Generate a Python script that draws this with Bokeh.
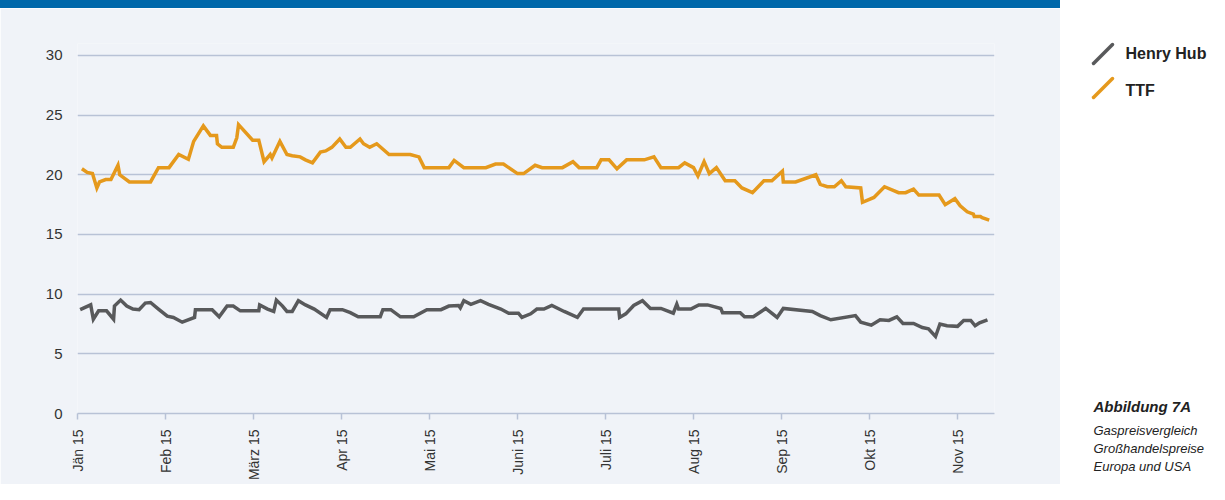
import math
from bokeh.plotting import figure
from bokeh.layouts import column, row
from bokeh.models import Div, FixedTicker, Range1d, ColumnDataSource
from bokeh.core.properties import value
from bokeh.embed import file_html
from bokeh.resources import INLINE

# ---------------- data (x = months since Jan 2015) ----------------
tick_labels = ["Jän 15", "Feb 15", "März 15", "Apr 15", "Mai 15", "Juni 15",
               "Juli 15", "Aug 15", "Sep 15", "Okt 15", "Nov 15"]
y_ticks = [0, 5, 10, 15, 20, 25, 30]

months_ttf = [0.05, 0.11, 0.17, 0.22, 0.25, 0.32, 0.38, 0.46, 0.48, 0.59,
              0.83, 0.92, 1.04, 1.15, 1.26, 1.32, 1.43, 1.51, 1.58, 1.59,
              1.64, 1.77, 1.81, 1.83, 1.99, 2.06, 2.12, 2.19, 2.21, 2.30,
              2.38, 2.44, 2.53, 2.59, 2.67, 2.76, 2.82, 2.89, 2.98, 3.05,
              3.10, 3.21, 3.25, 3.32, 3.40, 3.54, 3.78, 3.88, 3.94, 4.22,
              4.28, 4.39, 4.64, 4.75, 4.84, 5.00, 5.07, 5.20, 5.28, 5.51,
              5.63, 5.70, 5.90, 5.95, 6.04, 6.13, 6.24, 6.44, 6.55, 6.63,
              6.83, 6.90, 7.00, 7.05, 7.12, 7.18, 7.26, 7.36, 7.47, 7.55,
              7.67, 7.80, 7.89, 8.01, 8.02, 8.16, 8.39, 8.44, 8.52, 8.60,
              8.68, 8.73, 8.90, 8.92, 9.05, 9.17, 9.33, 9.41, 9.50, 9.56,
              9.79, 9.86, 9.97, 10.03, 10.11, 10.18, 10.19, 10.26, 10.28, 10.36]
ttf = [20.5, 20.2, 20.1, 18.9, 19.4, 19.6, 19.6, 20.8, 20.0, 19.4,
       19.4, 20.6, 20.6, 21.7, 21.3, 22.8, 24.1, 23.3, 23.3, 22.6,
       22.3, 22.3, 23.1, 24.2, 22.9, 22.9, 21.1, 21.7, 21.4, 22.8,
       21.7, 21.6, 21.5, 21.25, 21.0, 21.9, 22.0, 22.3, 23.0, 22.3,
       22.3, 23.0, 22.6, 22.3, 22.6, 21.7, 21.7, 21.5, 20.6, 20.6,
       21.2, 20.6, 20.6, 20.9, 20.9, 20.1, 20.1, 20.8, 20.6, 20.6,
       21.1, 20.6, 20.6, 21.25, 21.25, 20.5, 21.25, 21.25, 21.5, 20.6,
       20.6, 21.0, 20.6, 19.9, 21.1, 20.1, 20.6, 19.5, 19.5, 18.9,
       18.5, 19.5, 19.5, 20.3, 19.4, 19.4, 20.0, 19.2, 19.0, 19.0,
       19.5, 19.0, 18.9, 17.7, 18.1, 19.0, 18.5, 18.5, 18.8, 18.3,
       18.3, 17.5, 18.0, 17.4, 16.9, 16.7, 16.5, 16.5, 16.4, 16.2]

months_hh = [0.03, 0.15, 0.18, 0.24, 0.33, 0.41, 0.42, 0.49, 0.56, 0.63,
             0.70, 0.77, 0.83, 0.92, 1.02, 1.09, 1.19, 1.33, 1.34, 1.53,
             1.61, 1.70, 1.77, 1.85, 2.06, 2.07, 2.16, 2.23, 2.26, 2.33,
             2.38, 2.44, 2.51, 2.59, 2.69, 2.83, 2.87, 3.01, 3.10, 3.19,
             3.44, 3.47, 3.56, 3.67, 3.82, 3.97, 4.13, 4.22, 4.33, 4.35,
             4.39, 4.47, 4.58, 4.67, 4.81, 4.90, 5.01, 5.05, 5.15, 5.22,
             5.30, 5.39, 5.53, 5.68, 5.75, 6.15, 6.16, 6.23, 6.32, 6.42,
             6.51, 6.63, 6.77, 6.81, 6.83, 6.97, 7.06, 7.16, 7.31, 7.33,
             7.53, 7.58, 7.68, 7.82, 7.95, 8.02, 8.35, 8.44, 8.56, 8.84,
             8.90, 9.02, 9.12, 9.22, 9.31, 9.38, 9.50, 9.60, 9.67, 9.75,
             9.80, 9.88, 10.00, 10.07, 10.15, 10.20, 10.25, 10.34]
henry_hub = [8.7, 9.1, 7.9, 8.6, 8.6, 7.9, 9.0, 9.5, 9.0, 8.75,
             8.7, 9.25, 9.3, 8.75, 8.15, 8.05, 7.65, 8.05, 8.7, 8.7,
             8.1, 9.0, 9.0, 8.6, 8.6, 9.1, 8.75, 8.55, 9.5, 9.0,
             8.55, 8.55, 9.45, 9.1, 8.75, 8.05, 8.7, 8.7, 8.45, 8.1,
             8.1, 8.7, 8.7, 8.1, 8.1, 8.7, 8.7, 9.0, 9.05, 8.85,
             9.45, 9.15, 9.45, 9.15, 8.75, 8.4, 8.4, 8.05, 8.35, 8.75,
             8.75, 9.05, 8.55, 8.05, 8.75, 8.75, 8.05, 8.35, 9.05, 9.45,
             8.8, 8.8, 8.4, 9.15, 8.75, 8.75, 9.1, 9.1, 8.8, 8.45,
             8.45, 8.1, 8.1, 8.8, 8.05, 8.8, 8.55, 8.2, 7.85, 8.2,
             7.65, 7.4, 7.85, 7.8, 8.1, 7.55, 7.55, 7.2, 7.1, 6.45,
             7.5, 7.35, 7.3, 7.8, 7.8, 7.35, 7.6, 7.85]

series_names = ["Henry Hub", "TTF"]
caption_title = "Abbildung 7A"
caption_lines = ["Gaspreisvergleich", "Großhandelspreise", "Europa und USA"]

# ---------------- styles ----------------
PANEL = "#f0f3f8"
GRID = "#b8c2d6"
BLUE = "#0068aa"
C_HH = "#58595b"
C_TTF = "#e5991c"
TXT = "#333333"
FONT = "Liberation Sans"

LEFT_W, RIGHT_W, ROW_H = 1060, 149, 476

p = figure(width=LEFT_W, height=ROW_H, output_backend="svg", toolbar_location=None,
           x_range=Range1d(0, 10.42), y_range=Range1d(0, 31),
           background_fill_color=PANEL, border_fill_color=PANEL,
           min_border_left=77, min_border_right=66, min_border_top=35,
           min_border_bottom=71)
p.outline_line_color = None

p.line(months_hh, henry_hub, line_color=C_HH, line_width=3.5, line_join="miter")
p.line(months_ttf, ttf, line_color=C_TTF, line_width=3.5, line_join="miter")

p.xgrid.visible = False
p.ygrid.ticker = FixedTicker(ticks=y_ticks)
p.ygrid.grid_line_color = GRID
p.ygrid.grid_line_width = 1.5

p.yaxis.ticker = FixedTicker(ticks=y_ticks)
p.yaxis.axis_line_color = None
p.yaxis.major_tick_line_color = None
p.yaxis.major_tick_out = 0
p.yaxis.major_tick_in = 0
p.yaxis.minor_tick_line_color = None
p.yaxis.major_label_standoff = 15
p.yaxis.major_label_text_font = FONT
p.yaxis.major_label_text_font_size = "15px"
p.yaxis.major_label_text_color = TXT

p.xaxis.ticker = FixedTicker(ticks=list(range(len(tick_labels))))
p.xaxis.major_label_overrides = {i: lab for i, lab in enumerate(tick_labels)}
p.xaxis.major_label_orientation = math.pi / 2
p.xaxis.axis_line_color = GRID
p.xaxis.axis_line_width = 1.5
p.xaxis.major_tick_line_color = GRID
p.xaxis.major_tick_line_width = 1.5
p.xaxis.major_tick_out = 6
p.xaxis.major_tick_in = 0
p.xaxis.minor_tick_line_color = None
p.xaxis.major_label_standoff = 10
p.xaxis.major_label_text_font = FONT
p.xaxis.major_label_text_font_size = "14px"
p.xaxis.major_label_text_color = TXT

# ---------------- right panel: legend + caption ----------------
r = figure(width=RIGHT_W, height=ROW_H, output_backend="svg", toolbar_location=None,
           x_range=Range1d(0, RIGHT_W), y_range=Range1d(ROW_H, 0),
           min_border=0, background_fill_color="white", border_fill_color="white")
r.frame_align = False
r.outline_line_color = None
r.axis.visible = False
r.grid.visible = False

leg = ColumnDataSource(dict(x0=[33, 33], y0=[55, 89], x1=[52, 52], y1=[36, 70],
                            c=[C_HH, C_TTF], tx=[65, 65], ty=[45, 82],
                            name=series_names))
r.segment("x0", "y0", "x1", "y1", source=leg, line_color="c", line_width=3.5,
          line_cap="round")
r.text("tx", "ty", text="name", source=leg, text_font=value(FONT),
       text_font_style="bold", text_font_size="16px", text_color="#222222",
       text_baseline="middle")

r.text([33], [398], text=[caption_title], text_font=value(FONT),
       text_font_style="bold italic", text_font_size="15px", text_color="#222222",
       text_baseline="middle")
r.text([33] * 3, [422, 440, 458], text=caption_lines, text_font=value(FONT),
       text_font_style="italic", text_font_size="13px", text_color="#222222",
       text_baseline="middle")

bar = Div(width=LEFT_W, height=8, margin=(0, 0, 0, 0),
          styles={"background-color": BLUE})

layout = column(bar, row(p, r, spacing=0), spacing=0)

open("out.html", "w").write(file_html(layout, INLINE))
